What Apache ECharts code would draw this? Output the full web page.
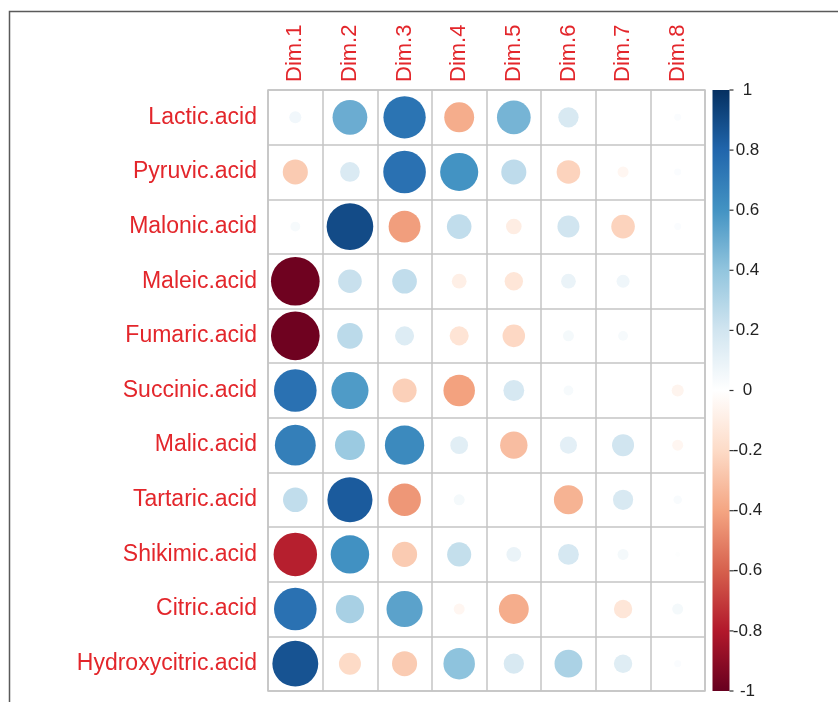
<!DOCTYPE html>
<html>
<head>
<meta charset="utf-8">
<script src="https://cdn.jsdelivr.net/npm/echarts@6/dist/echarts.min.js"></script>
<style>html,body{margin:0;padding:0;background:#fff}#c{width:838px;height:702px}</style>
</head>
<body>
<div id="c"></div>
<script>
// Column categories
var dims = ['Dim.1','Dim.2','Dim.3','Dim.4','Dim.5','Dim.6','Dim.7','Dim.8'];
// Row categories
var acids = ['Lactic.acid','Pyruvic.acid','Malonic.acid','Maleic.acid','Fumaric.acid','Succinic.acid','Malic.acid','Tartaric.acid','Shikimic.acid','Citric.acid','Hydroxycitric.acid'];
// Correlation values per row (Dim.1 .. Dim.8)
var lactic        = [ 0.06,  0.50,  0.74, -0.37,  0.47,  0.17,  0.00,  0.02];
var pyruvic       = [-0.26,  0.16,  0.75,  0.60,  0.26, -0.23, -0.05,  0.02];
var malonic       = [ 0.04,  0.90, -0.42,  0.25, -0.10,  0.20, -0.23,  0.02];
var maleic        = [-0.98,  0.23,  0.25, -0.09, -0.14,  0.09,  0.07,  0.00];
var fumaric       = [-0.98,  0.27,  0.15, -0.15, -0.21,  0.05,  0.04,  0.00];
var succinic      = [ 0.75,  0.57, -0.24, -0.41,  0.18,  0.04,  0.00, -0.06];
var malic         = [ 0.69,  0.37,  0.64,  0.13, -0.31,  0.12,  0.20, -0.05];
var tartaric      = [ 0.25,  0.84, -0.44,  0.05,  0.00, -0.35,  0.17,  0.03];
var shikimic      = [-0.78,  0.61, -0.26,  0.24,  0.09,  0.18,  0.05,  0.01];
var citric        = [ 0.75,  0.33,  0.54, -0.05, -0.37,  0.00, -0.14,  0.05];
var hydroxycitric = [ 0.87, -0.20, -0.26,  0.41,  0.17,  0.32,  0.14,  0.02];
var rows = [lactic, pyruvic, malonic, maleic, fumaric, succinic, malic, tartaric, shikimic, citric, hydroxycitric];
// Colour bar ticks
var barTicks = [-1, -0.8, -0.6, -0.4, -0.2, 0, 0.2, 0.4, 0.6, 0.8, 1];
var rdbu = ['#67001F','#B2182B','#D6604D','#F4A582','#FDDBC7','#FFFFFF','#D1E5F0','#92C5DE','#4393C3','#2166AC','#053061'];

var data = [];
rows.forEach(function (r, i) {
  r.forEach(function (v, j) { data.push([j, i, v]); });
});

var CELL = 54.65;
var labelRed = '#e3262b';
var FONT = 'Liberation Sans, Arial, sans-serif';
var chart = echarts.init(document.getElementById('c'), null, {renderer: 'canvas'});
chart.setOption({
  animation: false,
  graphic: [{
    type: 'rect', shape: {x: 9.5, y: 11.5, width: 900, height: 800},
    style: {fill: 'none', stroke: '#5a5a5a', lineWidth: 1.5}, silent: true, z: -10
  }],
  grid: [
    {left: 268, top: 90, width: 437, height: 601, show: true, borderColor: '#c4c4c4', borderWidth: 1.5, backgroundColor: 'transparent'},
    {left: 712.5, top: 90, width: 17, height: 601}
  ],
  xAxis: [
    {type: 'category', data: dims, position: 'top', gridIndex: 0,
     axisLine: {show: false}, axisTick: {show: false},
     splitLine: {show: true, interval: 0, lineStyle: {color: '#c4c4c4', width: 1.5}},
     axisLabel: {rotate: -90, margin: 8, color: labelRed, fontSize: 22, fontFamily: FONT, interval: 0}},
    {type: 'value', gridIndex: 1, min: 0, max: 1, show: false}
  ],
  yAxis: [
    {type: 'category', data: acids, inverse: true, gridIndex: 0,
     axisLine: {show: false}, axisTick: {show: false},
     splitLine: {show: true, interval: 0, lineStyle: {color: '#c4c4c4', width: 1.5}},
     axisLabel: {margin: 11, color: labelRed, fontSize: 23, fontFamily: FONT, interval: 0}},
    {type: 'value', gridIndex: 1, position: 'right', min: -1, max: 1, interval: 0.2,
     axisLine: {show: false}, splitLine: {show: false}, axisTick: {show: false},
     axisLabel: {margin: 18, align: 'center', color: '#222', fontSize: 17, fontFamily: FONT,
       formatter: function (v) { return String(Math.round(v * 10) / 10); }}}
  ],
  visualMap: {
    show: false, type: 'continuous', min: -1, max: 1, dimension: 2, seriesIndex: 0,
    inRange: {color: rdbu}
  },
  series: [
    {type: 'scatter', xAxisIndex: 0, yAxisIndex: 0, data: data,
     symbol: 'circle',
     symbolSize: function (val) { return Math.sqrt(Math.abs(val[2])) * CELL * 0.9; },
     itemStyle: {opacity: 1}, z: 5},
    {type: 'custom', xAxisIndex: 1, yAxisIndex: 1, data: [[0, 1]], z: 1, silent: true,
     renderItem: function (params, api) {
       var top = api.coord([0, barTicks[barTicks.length - 1]]);
       var bot = api.coord([0, barTicks[0]]);
       var cs = params.coordSys;
       var stops = rdbu.map(function (c, k) { return {offset: 1 - k / (rdbu.length - 1), color: c}; }).reverse();
       var children = [{
         type: 'rect',
         shape: {x: cs.x, y: top[1], width: cs.width, height: bot[1] - top[1]},
         style: {fill: new echarts.graphic.LinearGradient(0, 0, 0, 1, stops)}
       }];
       var xr = cs.x + cs.width;
       barTicks.forEach(function (t) {
         var p = api.coord([0, t]);
         children.push({type: 'line', shape: {x1: xr, y1: p[1], x2: xr + 4, y2: p[1]},
           style: {stroke: '#333', lineWidth: 1.2}});
       });
       return {type: 'group', children: children};
     }}
  ]
});
</script>
</body>
</html>
